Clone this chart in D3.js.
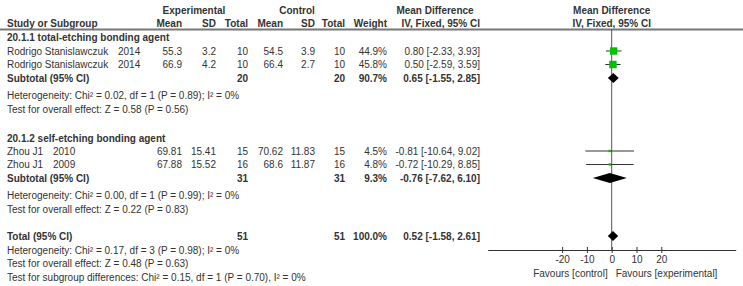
<!DOCTYPE html>
<html><head><meta charset="utf-8">
<script src="https://cdn.jsdelivr.net/npm/d3@7"></script>
<style>
body{margin:0;background:#fff;}
text{font-family:"Liberation Sans",Arial,sans-serif;font-size:10px;fill:#333;}
.b{font-weight:bold;}
</style></head><body>
<svg id="c" width="743" height="286"></svg>
<script>
// ---- data ----
const studyNames = ["Rodrigo Stanislawczuk", "Rodrigo Stanislawczuk", "Zhou J1", "Zhou J1"];
const studyYears = ["2014", "2014", "2010", "2009"];
const studyGroup = [0, 0, 1, 1];
const expMean = ["55.3", "66.9", "69.81", "67.88"];
const expSD = ["3.2", "4.2", "15.41", "15.52"];
const expN = [10, 10, 15, 16];
const ctlMean = ["54.5", "66.4", "70.62", "68.6"];
const ctlSD = ["3.9", "2.7", "11.83", "11.87"];
const ctlN = [10, 10, 15, 16];
const weights = [44.9, 45.8, 4.5, 4.8];
const md = [0.80, 0.50, -0.81, -0.72];
const lo = [-2.33, -2.59, -10.64, -10.29];
const hi = [3.93, 3.59, 9.02, 8.85];

const groupNames = ["20.1.1 total-etching bonding agent", "20.1.2 self-etching bonding agent"];
const subExpN = [20, 31];
const subCtlN = [20, 31];
const subWeight = ["90.7%", "9.3%"];
const subMd = [0.65, -0.76];
const subLo = [-1.55, -7.62];
const subHi = [2.85, 6.10];
const subHet = ["Heterogeneity: Chi² = 0.02, df = 1 (P = 0.89); I² = 0%", "Heterogeneity: Chi² = 0.00, df = 1 (P = 0.99); I² = 0%"];
const subTest = ["Test for overall effect: Z = 0.58 (P = 0.56)", "Test for overall effect: Z = 0.22 (P = 0.83)"];

const totalN = [51, 51];
const totalMd = 0.52, totalLo = -1.58, totalHi = 2.61;
const totalLines = ["Heterogeneity: Chi² = 0.17, df = 3 (P = 0.98); I² = 0%",
  "Test for overall effect: Z = 0.48 (P = 0.63)",
  "Test for subgroup differences: Chi² = 0.15, df = 1 (P = 0.70), I² = 0%"];

const axisTicks = [-20, -10, 0, 10, 20];
const axisDomain = [-50, 50];

// ---- layout ----
const svg = d3.select("#c");
const loc = d3.formatLocale({decimal: ".", thousands: ",", grouping: [3], currency: ["", ""], minus: "-"});
const x = d3.scaleLinear().domain(axisDomain).range([487.7, 735.7]);
const rowY = {
  h1: 10, h2: 23,
  g: [[37.5, 51, 64.5, 78, 95, 109], [138, 151, 164.5, 178, 195, 209]],
  total: 236, tl: [250, 263.5, 277]
};
const axisY = 250;
const col = {name: 7, expMean: 182, expSD: 216, expN: 248, ctlMean: 283, ctlSD: 315, ctlN: 345, w: 387, ci: 480};
const fmt = loc.format(".2f");
const ciText = (m, l, h) => `${fmt(m)} [${fmt(l)}, ${fmt(h)}]`;

function txt(xp, y, s, anchor, bold) {
  return svg.append("text").attr("x", xp).attr("y", y).attr("dy", "0.35em")
    .attr("text-anchor", anchor || "start").attr("class", bold ? "b" : null).text(s);
}

// headers
txt(194, rowY.h1, "Experimental", "middle", true);
txt(297, rowY.h1, "Control", "middle", true);
txt(435, rowY.h1, "Mean Difference", "middle", true);
txt(x(0), rowY.h1, "Mean Difference", "middle", true);
txt(col.name, rowY.h2, "Study or Subgroup", "start", true);
txt(col.expMean, rowY.h2, "Mean", "end", true);
txt(col.expSD, rowY.h2, "SD", "end", true);
txt(col.expN, rowY.h2, "Total", "end", true);
txt(col.ctlMean, rowY.h2, "Mean", "end", true);
txt(col.ctlSD, rowY.h2, "SD", "end", true);
txt(col.ctlN, rowY.h2, "Total", "end", true);
txt(col.w, rowY.h2, "Weight", "end", true);
txt(col.ci, rowY.h2, "IV, Fixed, 95% CI", "end", true);
txt(x(0), rowY.h2, "IV, Fixed, 95% CI", "middle", true);

svg.append("line").attr("x1", 0).attr("x2", 743).attr("y1", 29.5).attr("y2", 29.5)
  .attr("stroke", "#777").attr("stroke-width", 2);

// zero line
svg.append("line").attr("x1", x(0)).attr("x2", x(0)).attr("y1", 29).attr("y2", axisY)
  .attr("stroke", "#555").attr("stroke-width", 1);

function diamond(m, l, h, y) {
  const hh = 5;
  svg.append("path").attr("d", `M${x(l)},${y}L${x(m)},${y - hh}L${x(h)},${y}L${x(m)},${y + hh}Z`).attr("fill", "#000");
}

[0, 1].forEach(g => {
  const ys = rowY.g[g];
  txt(col.name, ys[0], groupNames[g], "start", true);
  const idx = studyGroup.map((v, i) => v === g ? i : -1).filter(i => i >= 0);
  idx.forEach((i, k) => {
    const y = ys[1 + k];
    txt(col.name, y, studyNames[i]);
    txt(g === 0 ? 118 : 53, y, studyYears[i]);
    txt(col.expMean, y, expMean[i], "end");
    txt(col.expSD, y, expSD[i], "end");
    txt(col.expN, y, expN[i], "end");
    txt(col.ctlMean, y, ctlMean[i], "end");
    txt(col.ctlSD, y, ctlSD[i], "end");
    txt(col.ctlN, y, ctlN[i], "end");
    txt(col.w, y, weights[i].toFixed(1) + "%", "end");
    txt(col.ci, y, ciText(md[i], lo[i], hi[i]), "end");
    svg.append("line").attr("x1", x(lo[i])).attr("x2", x(hi[i])).attr("y1", y).attr("y2", y)
      .attr("stroke", "#333").attr("stroke-width", 1);
    const s = Math.max(1.5, Math.sqrt(weights[i]) * 1.1);
    svg.append("rect").attr("x", x(md[i]) - s / 2).attr("y", y - s / 2).attr("width", s).attr("height", s)
      .attr("fill", "#00c000");
  });
  const sy = ys[3];
  txt(col.name, sy, "Subtotal (95% CI)", "start", true);
  txt(col.expN, sy, subExpN[g], "end", true);
  txt(col.ctlN, sy, subCtlN[g], "end", true);
  txt(col.w, sy, subWeight[g], "end", true);
  txt(col.ci, sy, ciText(subMd[g], subLo[g], subHi[g]), "end", true);
  diamond(subMd[g], subLo[g], subHi[g], sy);
  txt(col.name, ys[4], subHet[g]);
  txt(col.name, ys[5], subTest[g]);
});

txt(col.name, rowY.total, "Total (95% CI)", "start", true);
txt(col.expN, rowY.total, totalN[0], "end", true);
txt(col.ctlN, rowY.total, totalN[1], "end", true);
txt(col.w, rowY.total, "100.0%", "end", true);
txt(col.ci, rowY.total, ciText(totalMd, totalLo, totalHi), "end", true);
diamond(totalMd, totalLo, totalHi, rowY.total);
totalLines.forEach((s, i) => txt(col.name, rowY.tl[i], s));

// axis
const ax = svg.append("g").attr("transform", `translate(0,${axisY})`)
  .call(d3.axisBottom(x).tickValues(axisTicks).tickSize(3).tickSizeOuter(0).tickFormat(loc.format("d")));
ax.select(".domain").attr("stroke", "#333");
ax.selectAll(".tick line").attr("y1", -3).attr("y2", 3).attr("stroke", "#333");
ax.selectAll(".tick text").attr("y", 6).attr("dy", "0.71em").style("font-family", "Liberation Sans,Arial,sans-serif").style("font-size", "10px").attr("fill", "#333");
txt(x(0) - 4, 273, "Favours [control]", "end");
txt(x(0) + 4, 273, "Favours [experimental]", "start");
</script></body></html>
